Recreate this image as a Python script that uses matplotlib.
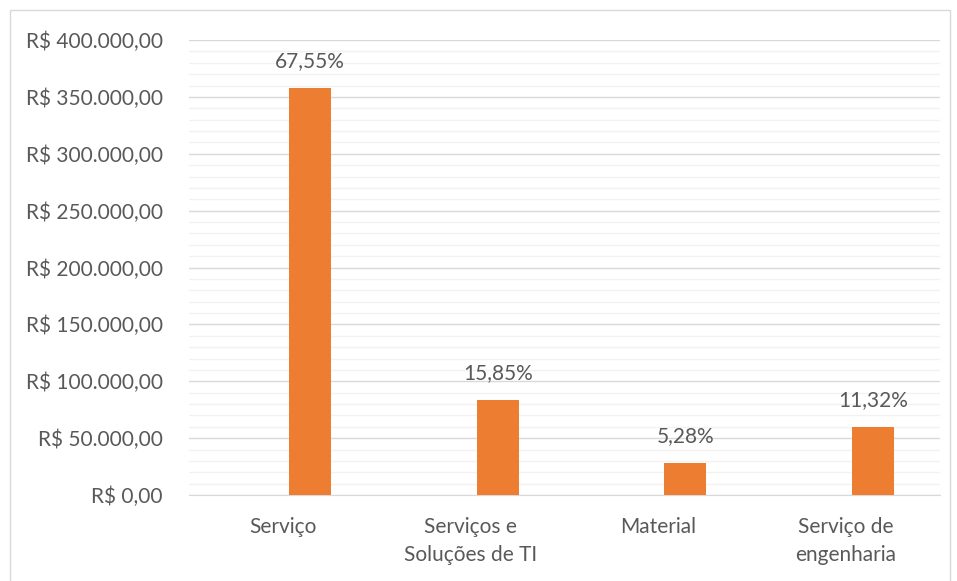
import matplotlib
matplotlib.use("Agg")
import matplotlib.pyplot as plt
from matplotlib.patches import Rectangle
from matplotlib.ticker import MultipleLocator, FuncFormatter
import numpy as np

categories = ["Serviço", "Serviços e\nSoluções de TI", "Material", "Serviço de\nengenharia"]
values = [357800, 83950, 27970, 59960]
pct_labels = ["67,55%", "15,85%", "5,28%", "11,32%"]

plt.rcParams['font.family'] = ['Lato', 'DejaVu Sans']
txt = '#595959'

fig = plt.figure(figsize=(9.57, 5.81), dpi=100)
W, H = 957, 581
ax = fig.add_axes([189 / W, 1 - 495 / H, (940 - 189) / W, (495 - 40) / H])

x = np.arange(len(categories))
offset = 0.144
bw = 0.224
ax.bar(x + offset, values, width=bw, color='#ED7D31', zorder=3)

ax.set_xlim(-0.5, len(categories) - 0.5)
ax.set_ylim(0, 400000)
ax.yaxis.set_major_locator(MultipleLocator(50000))
ax.yaxis.set_minor_locator(MultipleLocator(10000))

def fmt(v, pos):
    s = f"{v:,.2f}".replace(",", "X").replace(".", ",").replace("X", ".")
    return "R$ " + s
ax.yaxis.set_major_formatter(FuncFormatter(fmt))

ax.grid(which='minor', axis='y', color='#f2f2f2', linewidth=1, zorder=0)
ax.grid(which='major', axis='y', color='#d9d9d9', linewidth=1, zorder=1)
for s in ['top', 'right', 'left']:
    ax.spines[s].set_visible(False)
ax.spines['bottom'].set_color('#d9d9d9')
ax.tick_params(axis='both', which='both', length=0)
ax.tick_params(axis='y', labelsize=15, colors=txt, pad=19)
ax.tick_params(axis='x', labelsize=15, colors=txt, pad=16)
ax.set_xticks(x)
ax.set_xticklabels(categories, linespacing=1.5)
for lab in ax.get_xticklabels():
    lab.set_verticalalignment('top')

for xi, v, p in zip(x, values, pct_labels):
    ax.annotate(p, (xi + offset, v), xytext=(0, 12), textcoords='offset points',
                ha='center', va='bottom', fontsize=15, color=txt)

fig.patches.append(Rectangle((10 / W, -0.1), (950 - 10) / W, 1.1 - 10 / H,
                             transform=fig.transFigure, fill=False,
                             edgecolor='#d9d9d9', linewidth=1))

fig.savefig("out.png", dpi=100, facecolor='white')
